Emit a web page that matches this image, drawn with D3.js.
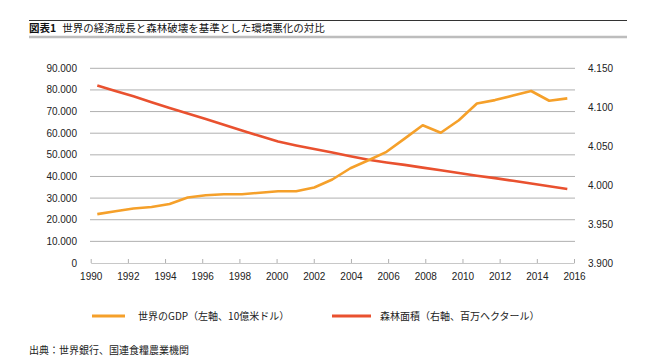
<!DOCTYPE html>
<html><head><meta charset="utf-8">
<script src="https://cdn.jsdelivr.net/npm/d3@7"></script>
<style>
body{margin:0;background:#fff;}
svg{display:block;font-family:"Liberation Sans","Noto Sans CJK JP",sans-serif;}
.jp{font-family:"Noto Sans CJK JP","Liberation Sans",sans-serif;}
</style></head><body>
<svg id="c" width="657" height="359"></svg>
<script>
const years = d3.range(1990, 2017);
const gdp = [22.6,23.9,25.2,25.9,27.3,30.3,31.3,31.8,31.8,32.5,33.2,33.2,34.9,38.6,43.8,47.5,51.4,57.5,63.7,60.2,66.0,73.7,75.3,77.4,79.5,75.0,76.1].map(v=>v*1000);
const forest = [4128,4121,4114,4106.5,4099,4092,4085,4077.5,4070,4063,4056,4051,4046.5,4042,4037,4032.5,4029,4026,4022.5,4019,4015.5,4012,4009,4005.5,4002,3998.5,3995];
const leftTicks = d3.range(0, 90001, 10000);
const rightTicks = [3900,3950,4000,4050,4100,4150];
const xTicks = d3.range(1990, 2017, 2);
const seriesNames = ["世界のGDP（左軸、10億米ドル）","森林面積（右軸、百万ヘクタール）"];
const colors = ["#F5A02A","#E9512F"];
const titleBold = "図表1";
const titleText = "世界の経済成長と森林破壊を基準とした環境悪化の対比";
const sourceText = "出典：世界銀行、国連食糧農業機関";

const svg = d3.select("#c");
const loc = d3.formatLocale({decimal:",",thousands:".",grouping:[3],currency:["",""]});
const fmt = loc.format(",d");

const xAxisScale = d3.scaleLinear().domain([1990,2016]).range([90.7,574]);
const xData = d3.scaleLinear().domain([1990,2016]).range([97.3,567.3]);
const yL = d3.scaleLinear().domain([0,90000]).range([263,68.3]);
const yR = d3.scaleLinear().domain([3900,4150]).range([263,68.3]);

// title
svg.append("line").attr("x1",29).attr("x2",627).attr("y1",20.5).attr("y2",20.5).attr("stroke","#333").attr("stroke-width",1);
svg.append("line").attr("x1",29).attr("x2",627).attr("y1",37).attr("y2",37).attr("stroke","#bdbdbd").attr("stroke-width",2.5);
const t = svg.append("text").attr("class","jp").attr("x",29).attr("y",32).attr("font-size",10.5).attr("fill","#111");
t.append("tspan").attr("font-weight","bold").text(titleBold);
t.append("tspan").attr("dx",6).text(titleText);

// gridlines
svg.append("g").selectAll("line").data(leftTicks.filter(d=>d>0)).join("line")
  .attr("x1",90).attr("x2",575).attr("y1",d=>yL(d)).attr("y2",d=>yL(d))
  .attr("stroke","#b0b0b0").attr("stroke-width",1);

// left labels
svg.append("g").selectAll("text").data(leftTicks).join("text")
  .attr("x",77).attr("y",d=>yL(d)).attr("dy","0.35em").attr("text-anchor","end")
  .attr("font-size",10).attr("fill","#222").text(d=>fmt(d));
// right labels
svg.append("g").selectAll("text").data(rightTicks).join("text")
  .attr("x",588).attr("y",d=>yR(d)).attr("dy","0.35em").attr("text-anchor","start")
  .attr("font-size",10).attr("fill","#222").text(d=>fmt(d));

// x axis
const xa = svg.append("g").attr("transform","translate(0,263)")
  .call(d3.axisBottom(xAxisScale).tickValues(xTicks).tickFormat(d3.format("d")).tickSizeInner(-4).tickSizeOuter(0).tickPadding(10));
xa.select(".domain").attr("stroke","#c8c8c8").attr("stroke-width",1.2);
xa.selectAll(".tick line").attr("stroke","#b0b0b0");
xa.selectAll("text").attr("font-size",10).attr("fill","#222").attr("font-family","Liberation Sans, sans-serif");

// lines
const lineL = d3.line().x((d,i)=>xData(years[i])).y(d=>yL(d));
const lineR = d3.line().x((d,i)=>xData(years[i])).y(d=>yR(d));
svg.append("path").datum(forest).attr("d",lineR).attr("fill","none").attr("stroke",colors[1]).attr("stroke-width",2.6).attr("stroke-linejoin","round");
svg.append("path").datum(gdp).attr("d",lineL).attr("fill","none").attr("stroke",colors[0]).attr("stroke-width",2.6).attr("stroke-linejoin","round");

// legend
const lg = [{x1:92,x2:125,tx:138},{x1:332,x2:371,tx:380}];
lg.forEach((l,i)=>{
  svg.append("line").attr("x1",l.x1).attr("x2",l.x2).attr("y1",316).attr("y2",316).attr("stroke",colors[i]).attr("stroke-width",3);
  svg.append("text").attr("class","jp").attr("x",l.tx).attr("y",316).attr("dy","0.35em").attr("font-size",10).attr("fill","#222").text(seriesNames[i]);
});
svg.append("text").attr("class","jp").attr("x",29).attr("y",350).attr("dy","0.35em").attr("font-size",10).attr("fill","#222").text(sourceText);
</script></body></html>
